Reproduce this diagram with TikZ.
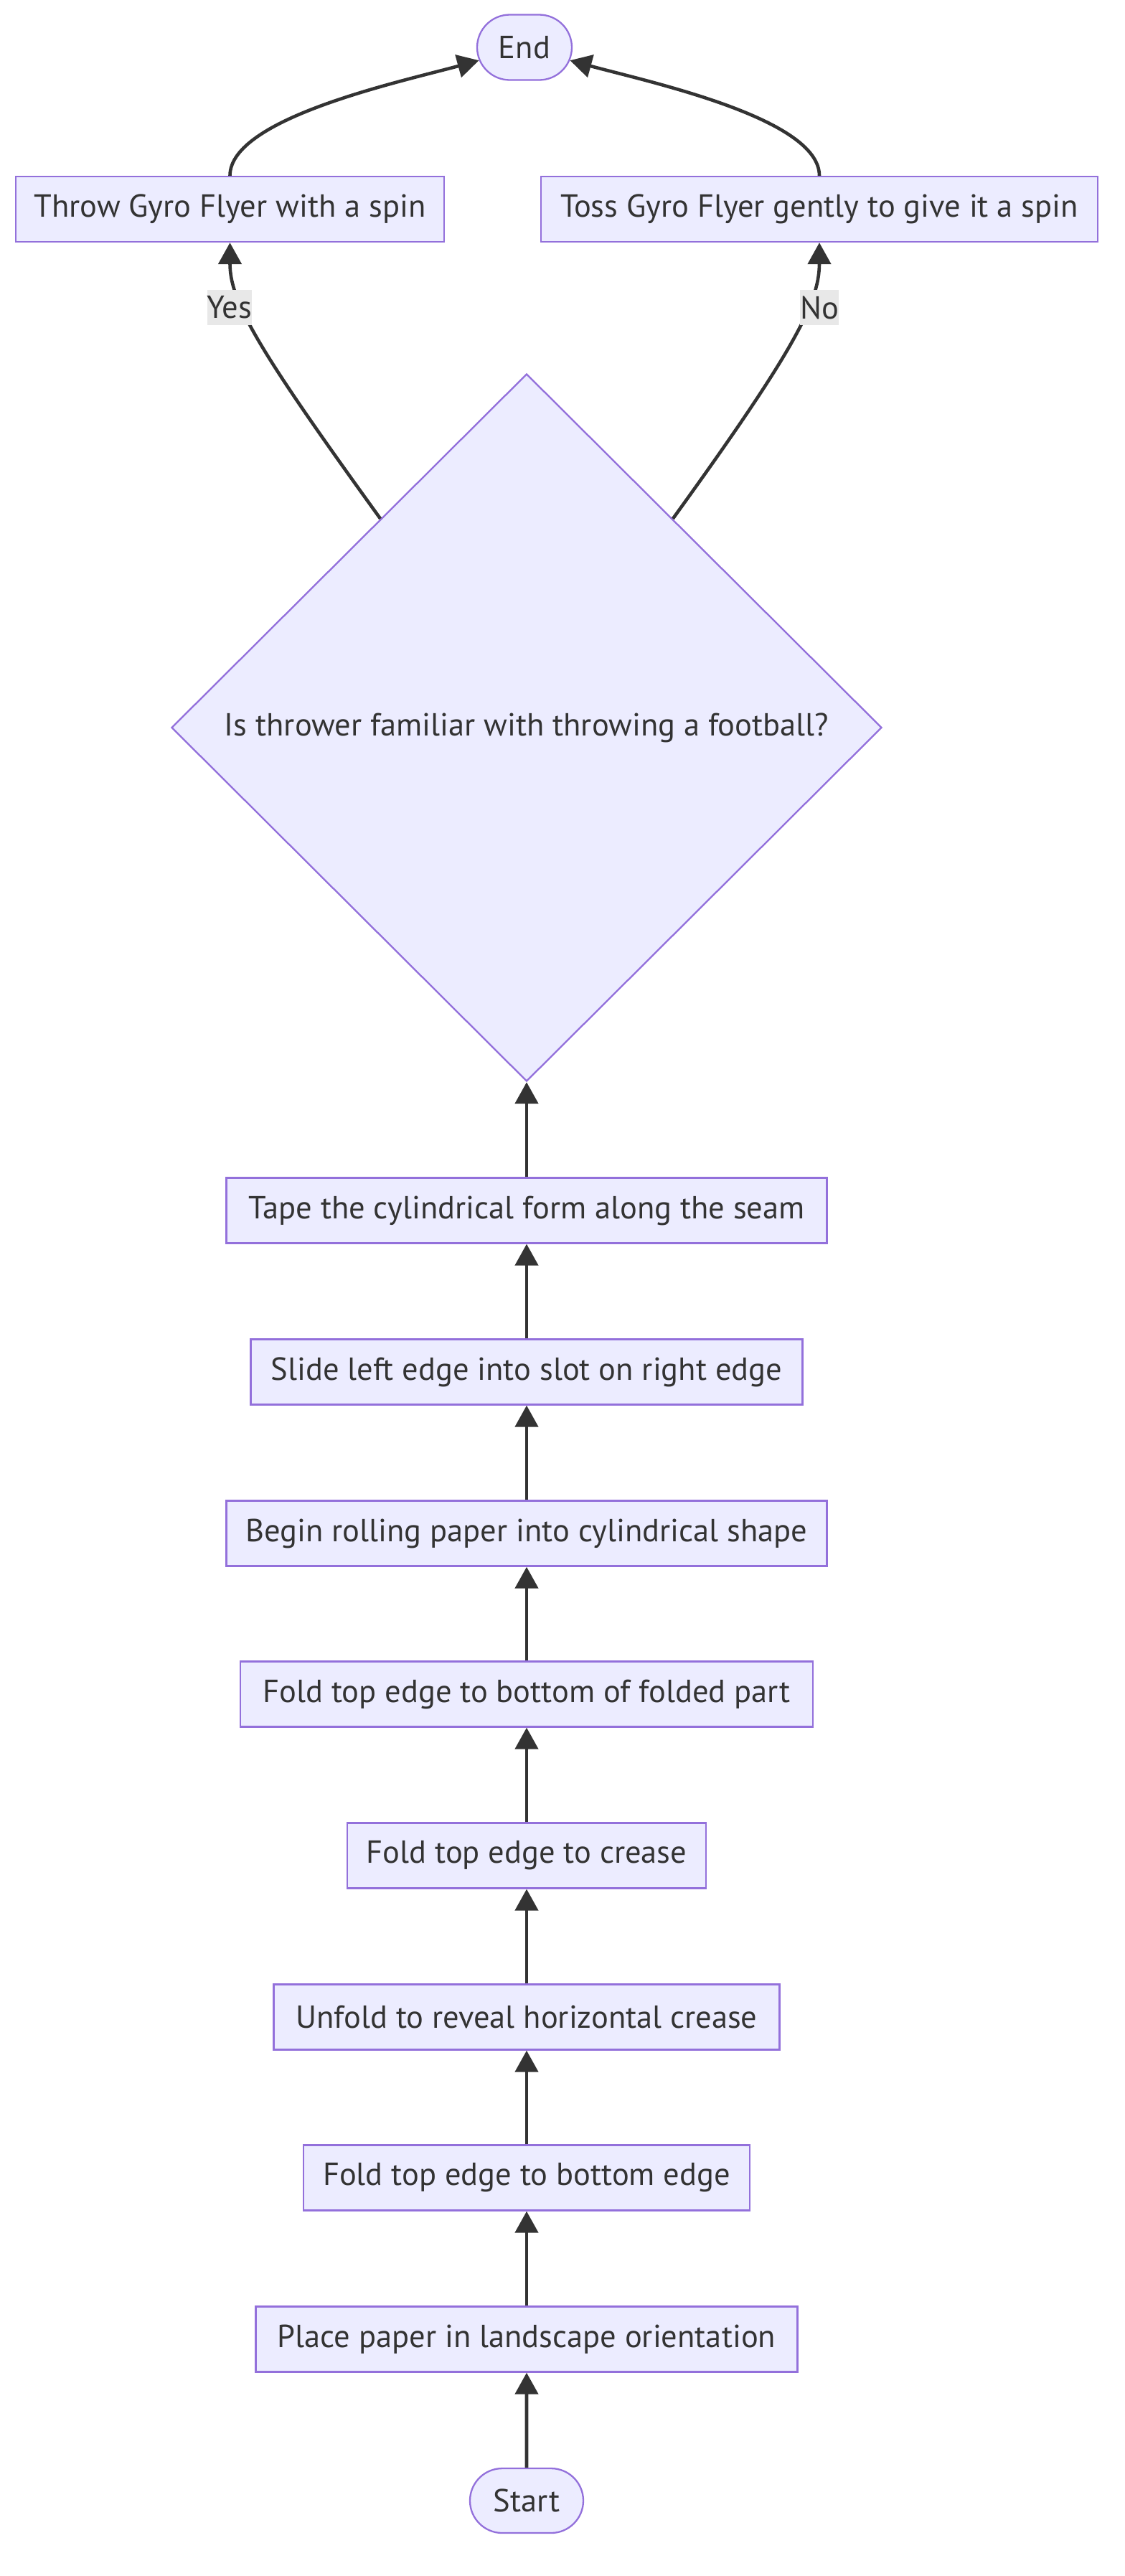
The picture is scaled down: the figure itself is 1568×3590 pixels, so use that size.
\documentclass[tikz,border=0pt]{standalone}
\usepackage{fontspec}
\setmainfont{PT Sans}
\usetikzlibrary{shapes.geometric,shapes.misc,arrows.meta}
\definecolor{nodefill}{HTML}{ECECFF}
\definecolor{nodeline}{HTML}{9370DB}
\definecolor{ink}{HTML}{333333}
\definecolor{lblbg}{HTML}{E8E8E8}
\begin{document}
\begin{tikzpicture}[x=1pt,y=-1pt,
  every node/.style={font=\fontsize{44.5}{52}\selectfont, text=ink},
  stepbox/.style={draw=nodeline, fill=nodefill, line width=2.3pt, rectangle, minimum height=91pt, inner sep=0pt},
  term/.style={draw=nodeline, fill=nodefill, line width=2.3pt, rounded rectangle, minimum height=91pt, inner sep=0pt},
  decision/.style={draw=nodeline, fill=nodefill, line width=2.3pt, diamond, minimum width=990pt, minimum height=986pt, inner sep=0pt},
  flow/.style={draw=ink, line width=4.6pt, -{Triangle[length=30pt,width=32pt]}},
  lbl/.style={fill=lblbg, inner sep=0pt, minimum height=49pt}
]
\useasboundingbox (0,0) rectangle (1568,3590);

\node[term, minimum width=132pt] (endn) at (731,66) {End};
\node[stepbox, minimum width=597pt] (throw) at (320.5,291.5) {Throw Gyro Flyer with a spin};
\node[stepbox, minimum width=776pt] (toss) at (1142,291.5) {Toss Gyro Flyer gently to give it a spin};
\node[decision] (dec) at (734,1014) {Is thrower familiar with throwing a football?};
\node[stepbox, minimum width=837pt] (tape) at (734,1687) {Tape the cylindrical form along the seam};
\node[stepbox, minimum width=769pt] (slide) at (734,1912) {Slide left edge into slot on right edge};
\node[stepbox, minimum width=837pt] (roll) at (734,2137) {Begin rolling paper into cylindrical shape};
\node[stepbox, minimum width=798pt] (foldpart) at (734,2361) {Fold top edge to bottom of folded part};
\node[stepbox, minimum width=500pt] (crease) at (734,2586) {Fold top edge to crease};
\node[stepbox, minimum width=705pt] (unfold) at (734,2811) {Unfold to reveal horizontal crease};
\node[stepbox, minimum width=622pt] (foldedge) at (734,3035) {Fold top edge to bottom edge};
\node[stepbox, minimum width=755pt] (place) at (734,3260) {Place paper in landscape orientation};
\node[term, minimum width=158pt, minimum height=90pt] (start) at (734,3485) {Start};

\draw[flow] (start) -- (place);
\draw[flow] (place) -- (foldedge);
\draw[flow] (foldedge) -- (unfold);
\draw[flow] (unfold) -- (crease);
\draw[flow] (crease) -- (foldpart);
\draw[flow] (foldpart) -- (roll);
\draw[flow] (roll) -- (slide);
\draw[flow] (slide) -- (tape);
\draw[flow] (tape) -- (dec.south);

\draw[flow] (dec.125) .. controls +(-169,-234) and +(0,83) .. (throw.south);
\draw[flow] (dec.55) .. controls +(169,-234) and +(0,83) .. (toss.south);
\draw[flow] (throw.north) .. controls +(0,-80) and +(-110,30) .. (endn.196);
\draw[flow] (toss.north) .. controls +(0,-80) and +(110,30) .. (endn.-16);

\node[lbl, minimum width=60pt] (yes) at (320,428.5) {Yes};
\node[lbl, minimum width=50pt] (no) at (1142,428.5) {No};
\end{tikzpicture}
\end{document}
